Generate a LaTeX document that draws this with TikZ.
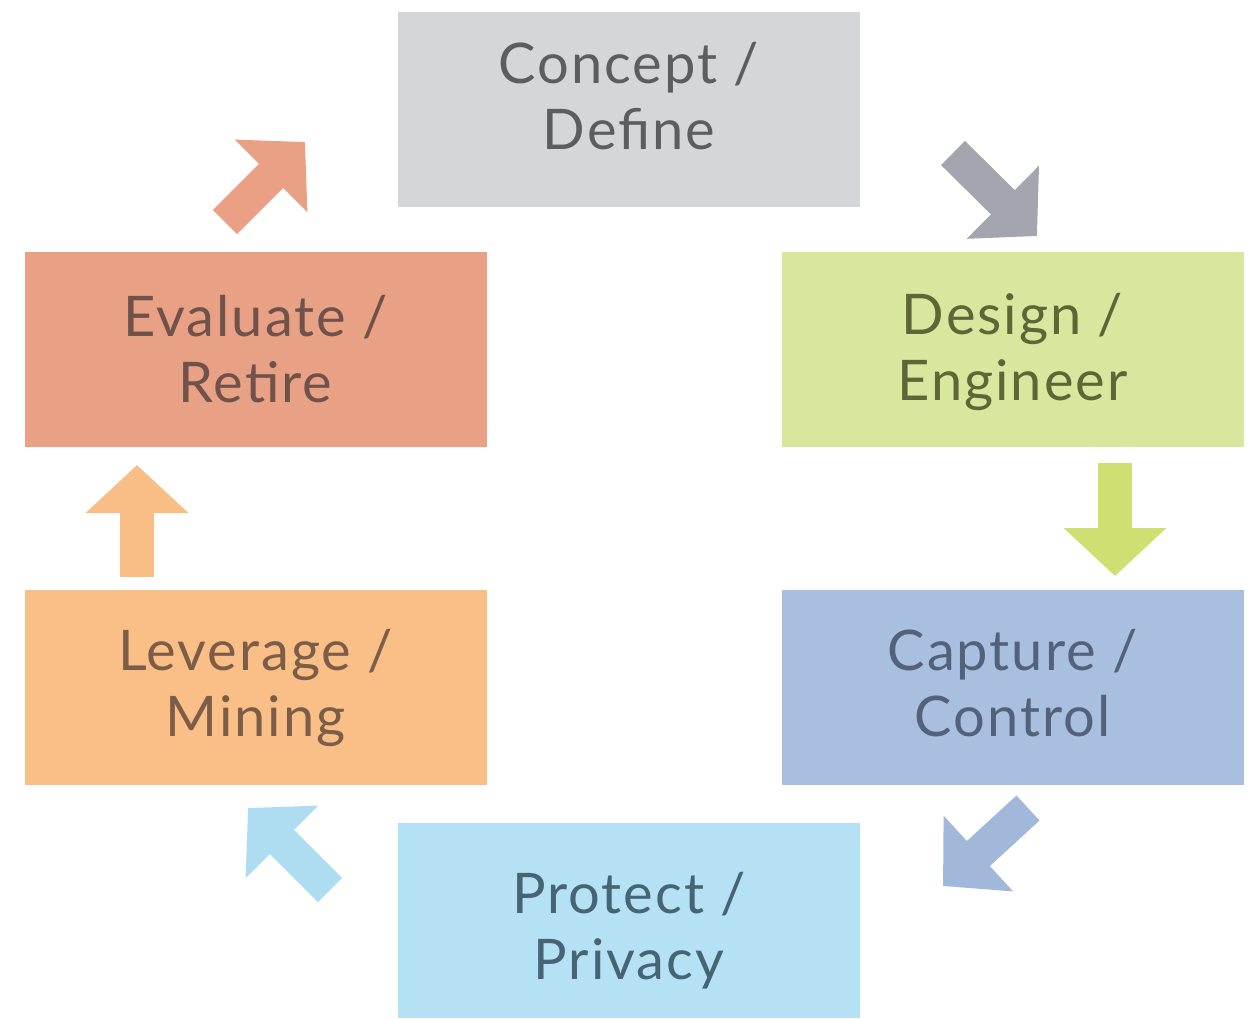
\documentclass[tikz,border=0pt]{standalone}
\usepackage{fontspec}
\setmainfont{Lato}[LetterSpace=3.5]
\usetikzlibrary{arrows.meta}
\definecolor{cGray}{HTML}{D5D6DA}
\definecolor{cGreen}{HTML}{D9E69D}
\definecolor{cBlue}{HTML}{A9BFDF}
\definecolor{cSky}{HTML}{B4E1F4}
\definecolor{cOrange}{HTML}{F9BF87}
\definecolor{cSalmon}{HTML}{E9A185}
\definecolor{aGray}{HTML}{A3A5AF}
\definecolor{aGreen}{HTML}{D0DF72}
\definecolor{aBlue}{HTML}{A2B8DA}
\definecolor{aSky}{HTML}{AEDDF2}
\definecolor{aOrange}{HTML}{F9BE85}
\definecolor{aSalmon}{HTML}{E9A084}
\definecolor{tGray}{HTML}{5C5D60}
\definecolor{tGreen}{HTML}{5E6536}
\definecolor{tBlue}{HTML}{53627A}
\definecolor{tSky}{HTML}{456474}
\definecolor{tOrange}{HTML}{7C5E48}
\definecolor{tSalmon}{HTML}{70524A}
\tikzset{
  phase/.style={rectangle, minimum width=462pt, minimum height=195pt, inner sep=0pt},
  phasetext/.style={align=center, inner sep=0pt, font=\fontsize{56}{66}\selectfont},
  blockarrow/.style={line width=34pt, line cap=butt, -{Triangle[length=48pt,width=100pt]}},
}
\begin{document}
\begin{tikzpicture}[x=1pt,y=-1pt]
\useasboundingbox (0,0) rectangle (1259,1018);
\fill[white] (0,0) rectangle (1259,1018);
\node[phase, fill=cGray] (concept) at (629,109.5) {};
\node[phase, fill=cGreen] (design) at (1012.5,349.5) {};
\node[phase, fill=cBlue] (capture) at (1012.5,687.5) {};
\node[phase, fill=cSky] (protect) at (629,920.5) {};
\node[phase, fill=cOrange] (leverage) at (255.5,687.5) {};
\node[phase, fill=cSalmon] (evaluate) at (255.5,349.5) {};
\node[phasetext, text=tGray] (conceptlbl) at ([yshift=13pt]concept.center) {Concept /\\Define};
\node[phasetext, text=tGreen] (designlbl) at ([yshift=-2pt]design.center) {Design /\\Engineer};
\node[phasetext, text=tBlue] (capturelbl) at ([yshift=4pt]capture.center) {Capture /\\Control};
\node[phasetext, text=tSky] (protectlbl) at ([yshift=-10pt]protect.center) {Protect /\\Privacy};
\node[phasetext, text=tOrange] (leveragelbl) at ([yshift=0pt]leverage.center) {Leverage /\\Mining};
\node[phasetext, text=tSalmon] (evaluatelbl) at ([yshift=0pt]evaluate.center) {Evaluate /\\Retire};
\coordinate (a1s) at (225,222); \coordinate (a1e) at (305,142);
\coordinate (a2s) at (953,153); \coordinate (a2e) at (1037,236);
\coordinate (a3s) at (1115,463); \coordinate (a3e) at (1115,576);
\coordinate (a4s) at (1028,808); \coordinate (a4e) at (943,886);
\coordinate (a5s) at (330,890); \coordinate (a5e) at (248,808);
\coordinate (a6s) at (137,577); \coordinate (a6e) at (137,465);
\draw[blockarrow, draw=aSalmon, fill=aSalmon] (a1s) -- (a1e);
\draw[blockarrow, draw=aGray, fill=aGray] (a2s) -- (a2e);
\draw[blockarrow, draw=aGreen, fill=aGreen] (a3s) -- (a3e);
\draw[blockarrow, draw=aBlue, fill=aBlue] (a4s) -- (a4e);
\draw[blockarrow, draw=aSky, fill=aSky] (a5s) -- (a5e);
\draw[blockarrow, draw=aOrange, fill=aOrange] (a6s) -- (a6e);
\end{tikzpicture}
\end{document}
